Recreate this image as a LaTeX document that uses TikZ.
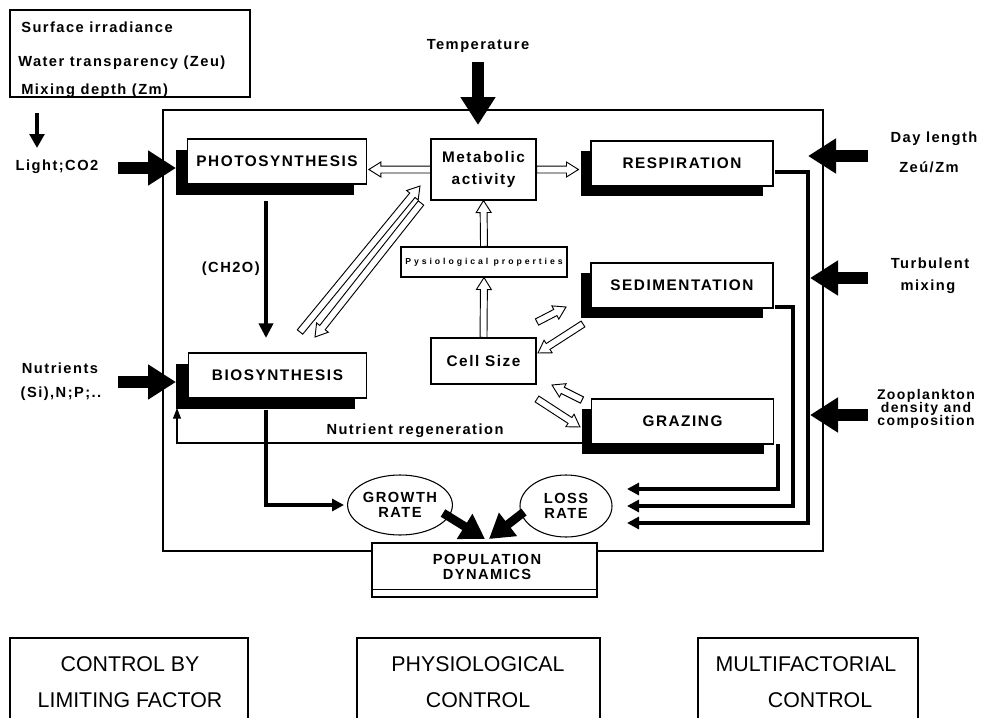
\documentclass[tikz,border=0pt]{standalone}
\usepackage{fontspec}
\setmainfont{Liberation Sans}
\newfontfamily\lbl[LetterSpace=10]{Liberation Sans}
\newfontfamily\widelbl[LetterSpace=34]{Liberation Sans}
\usetikzlibrary{calc,arrows.meta,shadows,shapes.geometric}

% hollow (outlined) arrow from #1 to #2
\newcommand\hollowarrow[2]{%
  \coordinate (hb) at ($#2!9pt!#1$);
  \draw[hol] ($#1!2.6pt!90:#2$) -- ($(hb)!2.6pt!90:#2$) -- ($(hb)!5.6pt!90:#2$)
    -- #2 -- ($(hb)!5.6pt!-90:#2$) -- ($(hb)!2.6pt!-90:#2$) -- ($#1!2.6pt!-90:#2$) -- cycle;}

\begin{document}
\begin{tikzpicture}[x=0.75pt,y=-0.75pt,
  box/.style={draw, line width=0.8pt, fill=white, inner sep=0pt, align=center,
    font=\lbl\bfseries\fontsize{11.5}{13}\selectfont},
  shbox/.style={box, minimum width=136.5pt, minimum height=33.75pt,
    general shadow={fill=black, shadow xshift=-7.5pt, shadow yshift=-7.5pt}},
  shboxl/.style={box, minimum width=134pt, minimum height=33.75pt,
    general shadow={fill=black, shadow xshift=-9pt, shadow yshift=-8.25pt}},
  lab/.style={inner sep=0pt, font=\lbl\bfseries\fontsize{11}{12}\selectfont},
  ctl/.style={draw, line width=0.8pt, inner sep=0pt, minimum height=91.5pt},
  ctltext/.style={inner sep=0pt, anchor=base, font=\fontsize{16}{18}\selectfont},
  oval/.style={draw, line width=0.8pt, ellipse, inner sep=0pt, align=center,
    font=\lbl\bfseries\fontsize{11}{11.5}\selectfont},
  hol/.style={draw, fill=white, line width=0.7pt, line join=miter},
  bigarrow/.style={line width=9.5pt, -{Triangle[width=25pt,length=21pt]}},
  fatarrow/.style={line width=6.5pt, -{Triangle[width=21pt,length=18pt]}},
  blk/.style={line width=3pt, -{Triangle[width=10.5pt,length=11pt]}},
  link/.style={line width=3pt, line join=miter},
  linkarrow/.style={link, -{Triangle[width=9pt,length=9pt]}},
  thin/.style={line width=0.8pt, -{Triangle[width=6pt,length=8pt]}},
]
\path[use as bounding box, clip] (0,0) rectangle (988,717);
\fill[white] (0,0) rectangle (988,717);

% outer frame of the cell
\node[draw, line width=0.9pt, minimum width=495pt, minimum height=330.75pt, inner sep=0pt] (frame) at (493,330.5) {};

% external factors, top left
\node[draw, line width=0.8pt, minimum width=180pt, minimum height=65.25pt, inner sep=0pt] (env) at (130,53.5) {};
\node[lab, anchor=base west] (t1) at (21,33) {Surface irradiance};
\node[lab, anchor=base west] (t2) at (18,66) {Water transparency (Zeu)};
\node[lab, anchor=base west] (t3) at (21,94) {Mixing depth (Zm)};
\coordinate (la) at (37,113);
\coordinate (lb) at (37,148);
\draw[line width=3pt, -{Triangle[width=11pt,length=10.5pt]}] (la) -- (lb);
\node[lab, anchor=base] (light) at (57,170) {Light;CO2};
\node[lab, anchor=base] (temp) at (478,50) {Temperature};
\node[lab, anchor=base] (nut1) at (60,373) {Nutrients};
\node[lab, anchor=base] (nut2) at (61,397) {(Si),N;P;..};
\node[lab, anchor=base] (day1) at (934,142) {Day length};
\node[lab, anchor=base] (day2) at (929,172) {Zeú/Zm};
\node[lab, anchor=base] (turb1) at (930,268) {Turbulent};
\node[lab, anchor=base] (turb2) at (928,290) {mixing};
\node[inner sep=0pt, align=center, font=\lbl\bfseries\fontsize{10.5}{9.8}\selectfont] (zoo) at (926,409) {Zooplankton\\density and\\composition};

% process boxes
\node[shboxl] (photo) at (277,161.5) {PHOTOSYNTHESIS};
\node[shboxl] (bio) at (277.5,375.5) {BIOSYNTHESIS};
\node[shbox] (resp) at (682,163.5) {RESPIRATION};
\node[shbox] (sed) at (682,285.5) {SEDIMENTATION};
\node[shbox] (graz) at (682.5,421.5) {GRAZING};
\node[box, minimum width=78.75pt, minimum height=45.75pt, font=\lbl\bfseries\fontsize{11.5}{16}\selectfont] (meta) at (483.5,169.5) {Metabolic\\activity};
\node[box, minimum width=124.5pt, minimum height=22.5pt, font=\widelbl\bfseries\fontsize{6.5}{7}\selectfont] (phys) at (484,262) {Pysiological properties};
\node[box, minimum width=78.75pt, minimum height=34.5pt] (cell) at (483.5,361) {Cell Size};

% rates and population
\node[oval, minimum width=67.5pt, minimum height=45pt] (growth) at (400,505) {GROWTH\\RATE};
\node[oval, minimum width=69pt, minimum height=46.5pt] (loss) at (566,506) {LOSS\\RATE};
\node[box, minimum width=168.75pt, minimum height=40.5pt, font=\lbl\bfseries\fontsize{11}{11.5}\selectfont] (pop) at (484.5,570) {};
\node[inner sep=0pt, align=center, font=\lbl\bfseries\fontsize{11}{11.5}\selectfont] (popt) at (487,567) {POPULATION\\DYNAMICS};
\draw[line width=0.8pt] ($(pop.south west)+(0,-8)$) -- ($(pop.south east)+(0,-8)$);

% kinds of control
\node[ctl, minimum width=178.5pt] (c1) at (129,699) {};
\node[ctl, minimum width=182.25pt] (c2) at (478.5,699) {};
\node[ctl, minimum width=165pt] (c3) at (808,699) {};
\node[ctltext] (c1a) at (130,671) {CONTROL BY};
\node[ctltext] (c1b) at (130,707) {LIMITING FACTOR};
\node[ctltext] (c2a) at (478,671) {PHYSIOLOGICAL};
\node[ctltext] (c2b) at (478,707) {CONTROL};
\node[ctltext] (c3a) at (806,671) {MULTIFACTORIAL};
\node[ctltext] (c3b) at (820,707) {CONTROL};

% big driving arrows
\coordinate (lightA) at (118,168);
\coordinate (lightB) at (176,168);
\draw[bigarrow] (lightA) -- (lightB);
\coordinate (nutA) at (118,382);
\coordinate (nutB) at (176,382);
\draw[bigarrow] (nutA) -- (nutB);
\coordinate (tempA) at (478,62);
\coordinate (tempB) at (478,125);
\draw[bigarrow] (tempA) -- (tempB);
\coordinate (dayA) at (868,156);
\coordinate (dayB) at (808,156);
\draw[bigarrow] (dayA) -- (dayB);
\coordinate (turbA) at (868,278);
\coordinate (turbB) at (810,278);
\draw[bigarrow] (turbA) -- (turbB);
\coordinate (zooA) at (868,415);
\coordinate (zooB) at (810,415);
\draw[bigarrow] (zooA) -- (zooB);

% carbohydrate flow
\coordinate (chA) at (266,201);
\coordinate (chB) at (266,338);
\draw[blk] (chA) -- (chB);
\node[lab, anchor=base east] (ch2o) at (260,272) {(CH2O)};

% nutrient regeneration loop
\coordinate (regA) at (582,443);
\coordinate (regB) at (177,408);
\draw[thin] (regA) -- (177,443) -- (regB);
\node[lab, anchor=base] (regt) at (415,434) {Nutrient regeneration};

% biosynthesis to growth rate
\coordinate (bgA) at (266,410);
\coordinate (bgB) at (344,505);
\draw[linkarrow] (bgA) |- (bgB);

% losses
\coordinate (rA) at (775,172);
\coordinate (rB) at (627,523);
\draw[linkarrow] (rA) -| (808,523) -- (rB);
\coordinate (sA) at (775,307);
\coordinate (sB) at (627,506);
\draw[linkarrow] (sA) -| (793,506) -- (sB);
\coordinate (gA) at (778,444);
\coordinate (gB) at (627,489);
\draw[linkarrow] (gA) |- (gB);

% rates into population dynamics
\coordinate (grA) at (443,513);
\coordinate (grB) at (485,539);
\draw[fatarrow] (grA) -- (grB);
\coordinate (lsA) at (524,512);
\coordinate (lsB) at (489,539);
\draw[fatarrow] (lsA) -- (lsB);

% physiological links
\hollowarrow{(meta.west)}{($(photo.east |- meta.west)+(2,0)$)}
\hollowarrow{(meta.east)}{($(resp.west |- meta.east)+(-12,0)$)}
\hollowarrow{(phys.north)}{(meta.south)}
\hollowarrow{(cell.north)}{(phys.south)}
\coordinate (d1a) at (300,332);
\coordinate (d1b) at (420,186);
\hollowarrow{(d1a)}{(d1b)}
\coordinate (d2a) at (421,203);
\coordinate (d2b) at (315,337);
\hollowarrow{(d2a)}{(d2b)}
\coordinate (c1p) at (537,322);
\coordinate (c1q) at (566,307);
\hollowarrow{(c1p)}{(c1q)}
\coordinate (c2p) at (583,324);
\coordinate (c2q) at (538,353);
\hollowarrow{(c2p)}{(c2q)}
\coordinate (c3p) at (582,400);
\coordinate (c3q) at (552,385);
\hollowarrow{(c3p)}{(c3q)}
\coordinate (c4p) at (537,399);
\coordinate (c4q) at (580,427);
\hollowarrow{(c4p)}{(c4q)}
\end{tikzpicture}
\end{document}
